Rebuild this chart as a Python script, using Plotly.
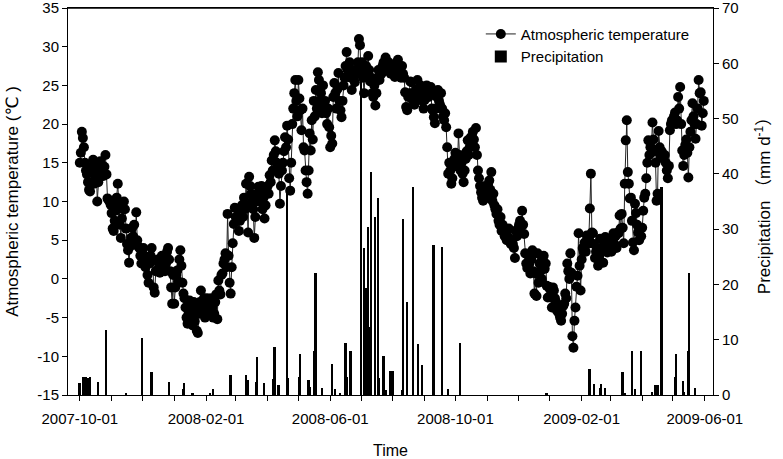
import pandas as pd
import plotly.graph_objects as go

# daily air temperature (deg C), one list per month
t_2007_10 = [15, 16.3, 19, 18.2, 17, 15, 14, 13.5, 12.5, 11.5, 11.3, 13.8, 14.5, 15.4, 12.3, 13, 15, 10, 12.5, 14,
             15.2, 14, 13.8, 13.3, 14.5, 16, 13.5, 10.4, 10.2, 10, 9.6]
t_2007_11 = [8.5, 6.5, 6.2, 7.5, 8.8, 10.5, 12.3, 9.8, 7, 5.3, 7.8, 9, 10, 9, 6.5, 4.5, 3.7, 2.1, 4.2, 5.3,
             6.6, 5.5, 7, 5, 8.6, 5, 4.2, 4, 3, 2]
t_2007_12 = [2, 4, 3, 1.5, 2.5, 0.5, -0.5, 2, 3, 4, 2.5, -1.1, -1.8, 1, 1.1, 2.5, 2, 0.8, 1.5, 3,
             2, 2.5, 1, 2, 3.5, 4, 2.5, 1, -1.1, -3.2, 0.5]
t_2008_01 = [-3.2, -1.1, 0.5, 1.1, -0.3, 2.5, 3.7, 1.7, -0.5, -1.9, -2.5, -3.7, -5, -5.8, -4.5, -2.8, -3.5, -4.5, -6, -3,
             -5.5, -4, -6.7, -7, -4.5, -3, -1.5, -4, -3.3, -2.5, -5]
t_2008_02 = [-4, -2.5, -3, -4.5, -3.7, -2.5, -3.7, -5, -4.5, -3, -2, -5.2, -0.2, -1.5, -2, 0.5, 0.7, 2, 2.5, 3.3,
             1.5, 8.4, 3, -0.5, -1.9, 1.5, 4.6, 7.1, 9.2]
t_2008_03 = [8, 7.5, 9, 6.2, 7.5, 8.5, 9.5, 8, 10.5, 9, 12.3, 9.5, 6, 13.2, 12, 11, 10, 9, 5.3, 8,
             10, 11, 11.9, 11, 10, 12, 9, 10.5, 7.8, 9.5, 11.5]
t_2008_04 = [12, 11, 13.4, 12.5, 15.3, 14, 16, 17.9, 16.5, 15, 14, 13.6, 9.7, 12, 14, 15, 16.5, 18.3, 17, 19.8,
             18, 13, 11.4, 15, 20, 22, 24, 25.7, 23, 21]
t_2008_05 = [25.7, 23.3, 21.8, 19.2, 22, 17, 16.6, 14, 12.5, 11, 14, 18.8, 16.6, 20.5, 18, 23, 21, 24.4, 22, 26.7,
             25.7, 23, 24, 21.4, 25, 22.5, 23, 21.4, 20, 22, 19.6]
t_2008_06 = [17, 18.5, 17.5, 23.5, 25.3, 24, 22, 24.5, 26.6, 23, 21.8, 20.9, 23, 25, 26, 27.5, 29.3, 27, 26.5, 28,
             26, 24.4, 27, 26, 25.4, 27, 26.5, 28, 31, 30.2]
t_2008_07 = [27, 28, 26, 24, 26.5, 27.5, 26, 28.8, 27, 25.5, 26, 24, 23.5, 25, 22.4, 24, 26, 27, 25.7, 27,
             26.5, 27.5, 28, 27, 28.6, 27, 27.4, 28, 27, 26.5, 27.5]
t_2008_08 = [26.5, 27, 26.1, 27.5, 28, 28.3, 27.5, 27, 26, 27.5, 26.5, 26, 24.1, 22.2, 21.8, 23.5, 24, 25.5, 25.4, 24,
             23, 22.5, 23, 24.5, 25.7, 24.5, 23.6, 25, 24, 23, 22]
t_2008_09 = [23.1, 24, 25, 24.8, 23.5, 24, 24.8, 22, 21.8, 20.9, 20.1, 22, 23.5, 24.4, 23, 22.5, 24, 22, 21, 20.5,
             21.4, 19.6, 17, 13.6, 15, 14, 12.3, 13, 14.5, 15.5]
t_2008_10 = [16.3, 15, 14.9, 18.8, 16, 14, 15, 13.6, 12.5, 14, 15.5, 16.5, 17.9, 16, 17, 18.3, 17.5, 19, 18, 17,
             19.5, 16, 14, 13, 12, 11.2, 10.5, 10.1, 11, 12, 11.5]
t_2008_11 = [10.5, 12, 12.7, 11.5, 13.8, 10.1, 11, 9.5, 9, 8.4, 9, 7.5, 7, 8, 6.2, 7, 6.5, 5.5, 6, 5,
             5.5, 6.5, 5, 4.5, 5, 4.5, 4, 2.7, 6.2, 5.5]
t_2008_12 = [6.5, 7, 7.5, 6, 8.8, 7, 5.8, 3.3, 2, 1.4, 3, 2, 0.7, 2.5, 3.7, 1, -1.9, 0.7, -2.2, 3.3,
             -0.5, 2, 1, 0, 2.5, 3, 1.3, 2, -0.9, -2.4, -1]
t_2009_01 = [-1.3, -2.4, -3.7, -1.1, -1.5, -2.5, -3, -4.1, -3.5, -4.5, -5, -5.4, -4.5, -3.5, -3.2, -1.9, -2.5, 2, 1, 0,
             3.3, 0.8, -7.4, -8.9, -5.4, -3.7, -1, 0.4, 5.9, 1.7, -1.5]
t_2009_02 = [2.5, 4, 3.5, 4.7, 3.5, 5.6, 4.5, 5.3, 9.1, 13.6, 6, 5.9, 4.5, 2.7, 3.5, 4, 1.7, 3, 5.2, 4,
             3.5, 2.1, 5, 5.4, 4, 3.4, 4.5, 5]
t_2009_03 = [4.5, 3.5, 5, 5.9, 4.5, 5.5, 4, 6, 5.9, 8.2, 6.5, 8.4, 6.6, 4.6, 12.3, 17.9, 20.5, 13.8, 12.3, 10.4,
             10.5, 7.5, 4.7, 3.7, 9.7, 8.5, 7, 6, 5, 6.5, 5.5]
t_2009_04 = [6.6, 8.8, 10.5, 11, 13, 15, 17.9, 16, 17, 16.9, 20.2, 18, 16.5, 15, 10.1, 11, 19.1, 17, 15.8, 16.5,
             16, 15.5, 16, 15, 14, 13, 14.6, 19.2, 20, 20.5]
t_2009_05 = [20.5, 21, 21.5, 20, 20.5, 23.5, 22, 24.8, 20, 16.6, 14.6, 16, 17.3, 18, 16.3, 13.1, 17, 19, 20.5, 22.7,
             21, 20, 18.1, 20, 22, 25.7, 24, 24.1, 19.8, 21.4, 23]

months = {
    "2007-10-01": t_2007_10, "2007-11-01": t_2007_11, "2007-12-01": t_2007_12,
    "2008-01-01": t_2008_01, "2008-02-01": t_2008_02, "2008-03-01": t_2008_03,
    "2008-04-01": t_2008_04, "2008-05-01": t_2008_05, "2008-06-01": t_2008_06,
    "2008-07-01": t_2008_07, "2008-08-01": t_2008_08, "2008-09-01": t_2008_09,
    "2008-10-01": t_2008_10, "2008-11-01": t_2008_11, "2008-12-01": t_2008_12,
    "2009-01-01": t_2009_01, "2009-02-01": t_2009_02, "2009-03-01": t_2009_03,
    "2009-04-01": t_2009_04, "2009-05-01": t_2009_05,
}

# precipitation events (mm/d)
rain_dates = ["2007-10-01", "2007-10-05", "2007-10-07", "2007-10-09", "2007-10-11", "2007-10-19", "2007-10-27",
              "2007-11-15", "2007-12-01", "2007-12-10", "2007-12-27", "2008-01-10", "2008-01-11", "2008-01-19",
              "2008-02-05", "2008-02-08", "2008-02-25", "2008-03-11", "2008-03-13", "2008-03-21", "2008-03-22",
              "2008-03-29", "2008-04-07", "2008-04-08", "2008-04-12", "2008-04-20", "2008-04-21", "2008-05-02",
              "2008-05-03", "2008-05-11", "2008-05-12", "2008-05-17", "2008-05-18", "2008-05-24", "2008-06-03",
              "2008-06-06", "2008-06-11", "2008-06-16", "2008-06-17", "2008-06-21", "2008-07-01", "2008-07-04",
              "2008-07-06", "2008-07-08", "2008-07-09", "2008-07-11", "2008-07-15", "2008-07-18", "2008-07-19",
              "2008-07-23", "2008-07-25", "2008-07-30", "2008-08-01", "2008-08-10", "2008-08-11", "2008-08-15",
              "2008-08-21", "2008-08-26", "2008-08-30", "2008-09-10", "2008-09-18", "2008-09-24", "2008-10-06",
              "2008-12-29", "2009-02-09", "2009-02-13", "2009-02-19", "2009-02-20", "2009-02-24", "2009-03-13",
              "2009-03-15", "2009-03-22", "2009-03-25", "2009-03-31", "2009-04-11", "2009-04-14", "2009-04-16",
              "2009-04-20", "2009-05-03", "2009-05-04", "2009-05-11", "2009-05-12", "2009-05-16", "2009-05-17",
              "2009-05-23"]
rain_mm = [2.2, 3.3, 3.2, 3.0, 3.3, 2.4, 11.7,
           0.4, 10.3, 4.2, 2.3, 1.0, 2.2, 0.4,
           0.3, 1.1, 3.6, 3.6, 2.8, 2.4, 6.9,
           2.2, 2.9, 8.7, 1.8, 37, 3.0, 3.3,
           7.4, 2.7, 1.5, 8.0, 22, 1.3, 5.6,
           1.1, 0.3, 9.4, 3.3, 8.0, 57, 26.6,
           19.3, 30.4, 12.3, 40.3, 32.2, 35.6, 3.0,
           7.0, 0.9, 4.3, 4.3, 0.9, 31.8, 16.8,
           37.6, 9.2, 5.4, 27.1, 26.8, 1.0, 9.4,
           0.3, 4.7, 2.0, 1.3, 2.0, 1.3, 4.2,
           0.3, 8.0, 1.0, 8.0, 0.6, 1.8, 1.8,
           37.6, 3.3, 7.4, 2.5, 0.6, 8.0, 22,
           1.3]

temp_ticks = [-15, -10, -5, 0, 5, 10, 15, 20, 25, 30, 35]
rain_ticks = [0, 10, 20, 30, 40, 50, 60, 70]

dates, temps = [], []
for start, vals in months.items():
    dates += list(pd.date_range(start, periods=len(vals), freq="D"))
    temps += vals

FONT = "Liberation Sans, Arial, DejaVu Sans, Noto Sans CJK SC"
DAY = 86400000

fig = go.Figure()
fig.add_trace(go.Scatter(x=dates, y=temps, mode="lines+markers", name="Atmospheric temperature",
                         line=dict(color="#222222", width=1),
                         marker=dict(color="black", size=10), yaxis="y2"))
fig.add_trace(go.Bar(x=pd.to_datetime(rain_dates), y=rain_mm, name="Precipitation",
                     marker=dict(color="black", line=dict(width=0)), width=1.8 * DAY, yaxis="y"))

fig.update_layout(
    width=783, height=459,
    margin=dict(l=68, r=70, t=8, b=64, pad=0),
    plot_bgcolor="white", paper_bgcolor="white",
    font=dict(family=FONT, size=15, color="black"),
    showlegend=True,
    legend=dict(x=0.64, y=0.975, xanchor="left", yanchor="top", bgcolor="rgba(0,0,0,0)",
                font=dict(size=15), tracegroupgap=0, itemwidth=30),
    bargap=0,
    xaxis=dict(
        type="date", range=["2007-09-19 12:00", "2009-06-09"], automargin=False,
        tick0="2007-10-01", dtick="M4", tickformat="%Y-%m-%d",
        ticks="outside", ticklen=5, tickcolor="black", ticklabelstandoff=5,
        minor=dict(dtick="M1", ticks="outside", ticklen=5, tickcolor="black"),
        showline=True, linecolor="black", linewidth=1, mirror=True,
        showgrid=False, zeroline=False,
        title=dict(text="Time", font=dict(size=16), standoff=18),
    ),
    yaxis=dict(
        side="right", range=[0, 70], automargin=False,
        tickvals=rain_ticks, ticktext=[str(v) for v in rain_ticks],
        ticks="outside", ticklen=5, tickcolor="black", ticklabeloverflow="allow",
        showline=True, linecolor="black", linewidth=1,
        showgrid=False, zeroline=False,
        title=dict(text="Precipitation （mm d<sup>-1</sup>）", font=dict(size=17), standoff=20),
    ),
    yaxis2=dict(
        overlaying="y", side="left", range=[-15, 35], automargin=False,
        tickvals=temp_ticks, ticktext=[str(v) for v in temp_ticks],
        ticks="outside", ticklen=5, tickcolor="black", ticklabeloverflow="allow",
        showline=True, linecolor="black", linewidth=1,
        showgrid=False, zeroline=False,
        title=dict(text="Atmospheric temperature (℃ )", font=dict(size=17), standoff=14),
    ),
    shapes=[dict(type="line", xref="paper", yref="paper", x0=0, x1=1, y0=1, y1=1,
                 line=dict(color="black", width=1.5))],
)

fig.write_html("out.html", config={"displayModeBar": False},
               post_script="document.body.style.margin='0';document.body.style.overflow='hidden';")
